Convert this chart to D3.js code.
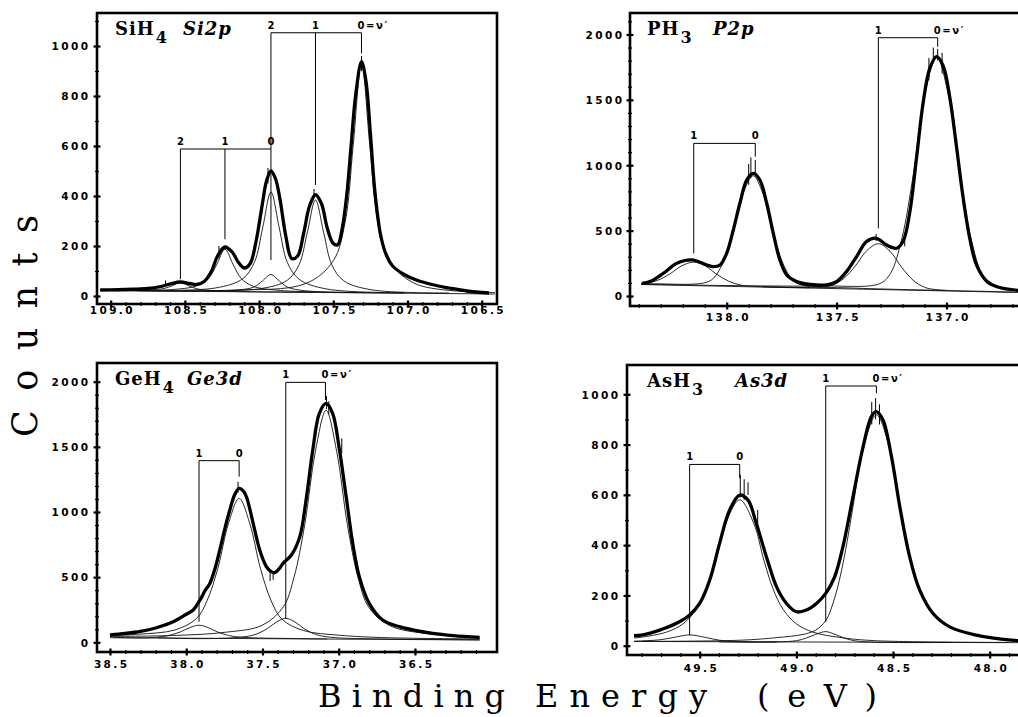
<!DOCTYPE html>
<html>
<head>
<meta charset="utf-8">
<script src="https://cdn.jsdelivr.net/npm/d3@7"></script>
<style>
  body { margin: 0; background: #fff; }
  svg { display: block; }
</style>
</head>
<body>
<svg id="chart" width="1018" height="717"></svg>
<script>
'use strict';

// ---- SiH4, Si 2p ----
var siXTicks = [109.0, 108.5, 108.0, 107.5, 107.0, 106.5];
var siYTicks = [0, 200, 400, 600, 800, 1000];
var siTitle = ['SiH', '4', 'Si2p'];
var siFit = [[109.07, 24], [108.95, 25], [108.85, 27], [108.75, 30], [108.67, 37], [108.60, 48], [108.53, 56],
  [108.47, 50], [108.42, 46], [108.37, 58], [108.32, 100], [108.28, 160], [108.23, 196], [108.18, 175],
  [108.14, 135], [108.10, 112], [108.06, 130], [108.02, 220], [107.98, 360], [107.95, 460], [107.92, 500],
  [107.89, 470], [107.86, 390], [107.82, 240], [107.78, 150], [107.74, 160], [107.70, 250], [107.66, 360],
  [107.62, 405], [107.58, 370], [107.54, 270], [107.50, 210], [107.47, 205], [107.44, 270], [107.41, 400],
  [107.38, 600], [107.35, 800], [107.31, 937], [107.28, 860], [107.25, 650], [107.22, 420], [107.18, 240],
  [107.14, 160], [107.10, 120], [107.02, 85], [106.94, 64], [106.83, 45], [106.72, 32], [106.60, 20], [106.45, 12]];
var siParts = [
  [[106.41, 14], [106.935, 46], [107.12, 138], [107.20, 295], [107.254, 601], [107.31, 933], [107.366, 602],
   [107.42, 296], [107.50, 141], [107.685, 50], [108.21, 23], [109.07, 23]],
  [[106.72, 12], [107.245, 25], [107.43, 61], [107.51, 125], [107.564, 251], [107.62, 384], [107.676, 251],
   [107.73, 126], [107.81, 63], [107.995, 29], [108.52, 21]],
  [[107.02, 12], [107.545, 16], [107.73, 24], [107.81, 36], [107.864, 60], [107.92, 86], [107.976, 61],
   [108.03, 37], [108.11, 26], [108.295, 20], [108.82, 21]],
  [[107.02, 13], [107.545, 28], [107.73, 67], [107.81, 135], [107.864, 272], [107.92, 416], [107.976, 272],
   [108.03, 137], [108.11, 69], [108.295, 32], [108.82, 23]],
  [[107.33, 14], [107.855, 22], [108.04, 39], [108.12, 70], [108.174, 125], [108.23, 187], [108.286, 125],
   [108.34, 71], [108.42, 41], [108.605, 25], [109.07, 23]],
  [[107.63, 15], [108.155, 18], [108.34, 23], [108.42, 29], [108.474, 41], [108.53, 54], [108.586, 41],
   [108.64, 30], [108.72, 25], [108.905, 22], [109.07, 22]]
];
var siBase = [[109.07, 22], [106.41, 8]];
var siNoise = [[107.31, 900, 960], [107.63, 390, 428], [107.94, 450, 512], [108.63, 44, 62], [108.27, 150, 200]];
var siMarks = [
  { at: [107.31, 107.62, 107.92], labels: ['0=\u03bd\u2032', '1', '2'], bar: 1053, ends: [971, 444, 588] },
  { at: [107.92, 108.23, 108.53], labels: ['0', '1', '2'], bar: 588, ends: [144, 227, 67] }
];

// ---- PH3, P 2p ----
var phXTicks = [138.0, 137.5, 137.0];
var phYTicks = [0, 500, 1000, 1500, 2000];
var phTitle = ['PH', '3', 'P2p'];
var phFit = [[138.386, 97], [138.349, 110], [138.288, 174], [138.227, 250], [138.159, 276], [138.09, 237],
  [138.061, 225], [138.03, 237], [138.0, 327], [137.97, 505], [137.94, 709], [137.909, 887], [137.879, 938],
  [137.849, 887], [137.818, 709], [137.788, 479], [137.758, 276], [137.727, 161], [137.682, 110], [137.62, 88],
  [137.545, 85], [137.50, 110], [137.455, 186], [137.409, 301], [137.364, 416], [137.318, 441], [137.273, 390],
  [137.227, 365], [137.197, 420], [137.167, 640], [137.136, 1060], [137.106, 1480], [137.076, 1740],
  [137.045, 1830], [137.015, 1760], [136.985, 1520], [136.955, 1150], [136.925, 760], [136.894, 440],
  [136.864, 240], [136.818, 115], [136.773, 72], [136.697, 46], [136.62, 40]];
var phParts = [
  [[136.62, 43], [136.785, 76], [136.835, 158], [136.887, 429], [136.94, 932], [136.992, 1543], [137.045, 1830],
   [137.098, 1546], [137.15, 939], [137.203, 440], [137.255, 172], [137.305, 94], [137.57, 77], [138.0, 80], [138.39, 90]],
  [[136.70, 30], [136.785, 34], [137.05, 49], [137.10, 67], [137.152, 121], [137.205, 222], [137.257, 342],
   [137.31, 400], [137.363, 346], [137.415, 229], [137.468, 133], [137.52, 82], [137.57, 68], [137.835, 71]],
  [[137.0, 42], [137.43, 61], [137.655, 83], [137.70, 124], [137.745, 252], [137.79, 492], [137.835, 783],
   [137.88, 920], [137.925, 786], [137.97, 498], [138.015, 262], [138.06, 136], [138.105, 99], [138.33, 93], [138.39, 92]],
  [[137.625, 63], [137.89, 75], [137.94, 85], [137.992, 114], [138.045, 166], [138.097, 229], [138.15, 259],
   [138.203, 232], [138.255, 173], [138.308, 124], [138.36, 99], [138.39, 96]]
];
var phBase = [[138.39, 88], [136.62, 25]];
var phNoise = [[137.06, 1780, 1900], [137.04, 1800, 1890], [137.02, 1700, 1860], [137.08, 1650, 1820],
  [137.89, 900, 1060], [137.90, 850, 1010], [137.87, 920, 1040], [137.32, 420, 475], [137.19, 380, 450]];
var phMarks = [
  { at: [137.04, 137.31], labels: ['0=\u03bd\u2032', '1'], bar: 1975, ends: [1906, 517] },
  { at: [137.87, 138.15], labels: ['0', '1'], bar: 1167, ends: [1065, 326] }
];

// ---- GeH4, Ge 3d ----
var geXTicks = [38.5, 38.0, 37.5, 37.0, 36.5];
var geYTicks = [0, 500, 1000, 1500, 2000];
var geTitle = ['GeH', '4', 'Ge3d'];
var geFit = [[38.5, 56], [38.4, 68], [38.3, 84], [38.2, 110], [38.085, 158], [38.0, 215], [37.954, 248],
  [37.91, 324], [37.875, 400], [37.845, 452], [37.81, 570], [37.78, 708], [37.745, 880], [37.714, 1015],
  [37.683, 1130], [37.653, 1181], [37.625, 1160], [37.605, 1117], [37.561, 913], [37.518, 708], [37.474, 580],
  [37.44, 540], [37.42, 534], [37.39, 565], [37.365, 606], [37.31, 670], [37.255, 811], [37.214, 1092],
  [37.17, 1476], [37.127, 1757], [37.083, 1834], [37.04, 1757], [36.995, 1476], [36.951, 1117], [36.908, 759],
  [36.865, 504], [36.8, 299], [36.712, 171], [36.603, 120], [36.5, 92], [36.384, 69], [36.25, 52], [36.076, 38]];
var geParts = [
  [[36.076, 38], [36.423, 67], [36.663, 127], [36.803, 269], [36.873, 497], [36.943, 902], [37.013, 1463],
   [37.083, 1780], [37.153, 1464], [37.223, 902], [37.293, 499], [37.363, 272], [37.503, 130], [37.743, 77],
   [38.063, 53], [38.5, 45]],
  [[36.076, 19], [36.507, 23], [36.787, 27], [36.987, 33], [37.107, 47], [37.167, 68], [37.227, 105], [37.287, 156],
   [37.347, 184], [37.407, 156], [37.467, 106], [37.527, 69], [37.587, 48], [37.707, 34], [37.907, 28], [38.187, 35]],
  [[36.076, 26], [36.673, 35], [36.993, 54], [37.233, 91], [37.373, 178], [37.443, 319], [37.513, 566], [37.583, 911],
   [37.653, 1105], [37.723, 911], [37.793, 567], [37.863, 320], [37.933, 182], [38.073, 95], [38.313, 62], [38.5, 51]],
  [[37.076, 26], [37.356, 30], [37.556, 34], [37.676, 43], [37.736, 57], [37.796, 80], [37.856, 113],
   [37.916, 131], [37.976, 113], [38.036, 81], [38.096, 58], [38.156, 44], [38.276, 34], [38.476, 38]]
];
var geBase = [[38.5, 35], [36.076, 18]];
var geNoise = [[37.08, 1790, 1890], [37.065, 1750, 1850], [37.66, 1150, 1232], [37.45, 470, 560],
  [36.98, 1450, 1565], [37.43, 480, 545]];
var geMarks = [
  { at: [37.087, 37.347], labels: ['0=\u03bd\u2032', '1'], bar: 1995, ends: [1860, 184] },
  { at: [37.653, 37.916], labels: ['0', '1'], bar: 1394, ends: [1271, 158] }
];

// ---- AsH3, As 3d ----
var asXTicks = [49.5, 49.0, 48.5, 48.0];
var asYTicks = [0, 200, 400, 600, 800, 1000];
var asTitle = ['AsH', '3', 'As3d'];
var asFit = [[49.84, 40], [49.802, 42], [49.707, 62], [49.62, 89], [49.552, 122], [49.5, 168], [49.448, 261],
  [49.397, 407], [49.345, 540], [49.293, 599], [49.25, 579], [49.207, 486], [49.155, 354], [49.103, 235],
  [49.051, 168], [49.0, 135], [48.948, 142], [48.896, 168], [48.848, 208], [48.802, 274], [48.759, 394],
  [48.707, 593], [48.655, 791], [48.612, 911], [48.586, 931], [48.552, 898], [48.508, 752], [48.465, 553],
  [48.414, 354], [48.362, 221], [48.293, 128], [48.207, 75], [48.069, 42], [47.888, 22], [47.82, 20]];
var asParts = [
  [[47.81, 20], [47.888, 22], [48.069, 42], [48.207, 75], [48.293, 128], [48.362, 221], [48.414, 354],
   [48.465, 553], [48.508, 752], [48.586, 918], [48.664, 752], [48.706, 557], [48.758, 330], [48.80, 195],
   [48.848, 100], [48.90, 62], [48.965, 45], [49.103, 32], [49.284, 22], [49.80, 17]],
  [[48.2, 13], [48.6, 14], [48.70, 20], [48.75, 30], [48.80, 45], [48.848, 56], [48.90, 45], [48.95, 30],
   [49.0, 20], [49.10, 15], [49.4, 15]],
  [[47.9, 13], [48.595, 20], [48.776, 33], [48.914, 54], [49.0, 87], [49.069, 145], [49.121, 227], [49.173, 354],
   [49.215, 476], [49.293, 580], [49.371, 476], [49.413, 354], [49.465, 227], [49.517, 145], [49.586, 87],
   [49.672, 54], [49.81, 33], [49.84, 31]],
  [[49.1, 15], [49.30, 16], [49.40, 22], [49.47, 33], [49.552, 43], [49.62, 35], [49.70, 24], [49.80, 19], [49.84, 18]]
];
var asBase = [[49.84, 17], [47.81, 12]];
var asNoise = [[48.59, 900, 985], [48.57, 880, 960], [48.61, 880, 970], [49.29, 590, 680], [49.27, 580, 662],
  [49.25, 600, 650], [49.20, 480, 540]];
var asMarks = [
  { at: [48.586, 48.848], labels: ['0=\u03bd\u2032', '1'], bar: 1033, ends: [1004, 95] },
  { at: [49.293, 49.552], labels: ['0', '1'], bar: 721, ends: [666, 42] }
];

// layout: frame box [x, y, w, h], axis domains, label offsets, title positions
var panels = [
  { id: 'si', fit: siFit, parts: siParts, base: siBase, noise: siNoise, marks: siMarks, title: siTitle,
    xTicks: siXTicks, yTicks: siYTicks, yMinor: 100, box: [97, 13, 400, 291],
    xDom: [109.092, 106.397], yDom: [-32, 1132], xLab: 10, yLab: 9,
    tpos: [115, 35, 183] },
  { id: 'ph', fit: phFit, parts: phParts, base: phBase, noise: phNoise, marks: phMarks, title: phTitle,
    xTicks: phXTicks, yTicks: phYTicks, yMinor: 100, box: [630, 13, 400, 293],
    xDom: [138.44, 136.62], yDom: [-76.5, 2164], xLab: 15, yLab: 8,
    tpos: [647, 35, 713] },
  { id: 'ge', fit: geFit, parts: geParts, base: geBase, noise: geNoise, marks: geMarks, title: geTitle,
    xTicks: geXTicks, yTicks: geYTicks, yMinor: 100, box: [97, 363, 400, 289],
    xDom: [38.585, 35.962], yDom: [-74.4, 2143.5], xLab: 16, yLab: 9,
    tpos: [115, 385, 187] },
  { id: 'as', fit: asFit, parts: asParts, base: asBase, noise: asNoise, marks: asMarks, title: asTitle,
    xTicks: asXTicks, yTicks: asYTicks, yMinor: 100, box: [627, 365, 400, 290],
    xDom: [49.876, 47.807], yDom: [-37, 1116.5], xLab: 17, yLab: 9,
    tpos: [647, 387, 735] }
];

var svg = d3.select('#chart');
var tickFont = '"DejaVu Sans", sans-serif';
var serif = '"DejaVu Serif", serif';

panels.forEach(function (p) {
  var left = p.box[0], top = p.box[1], right = left + p.box[2], bottom = top + p.box[3];
  var x = d3.scaleLinear().domain(p.xDom).range([left, right]);
  var y = d3.scaleLinear().domain(p.yDom).range([bottom, top]);
  var g = svg.append('g');

  g.append('defs').append('clipPath').attr('id', 'clip-' + p.id)
    .append('rect').attr('x', left).attr('y', top).attr('width', p.box[2]).attr('height', p.box[3]);

  var line = d3.line()
    .x(function (d) { return x(d[0]); })
    .y(function (d) { return y(d[1]); })
    .curve(d3.curveCatmullRom.alpha(0.5));

  var plot = g.append('g').attr('clip-path', 'url(#clip-' + p.id + ')');

  // baseline + fitted components
  plot.append('path').datum(p.base).attr('d', line)
    .attr('fill', 'none').attr('stroke', '#111').attr('stroke-width', 0.9);
  plot.selectAll('path.part').data(p.parts).enter().append('path').attr('class', 'part')
    .attr('d', line).attr('fill', 'none').attr('stroke', '#111').attr('stroke-width', 0.9);

  // measured spectrum (thick)
  plot.append('path').datum(p.fit).attr('d', line)
    .attr('fill', 'none').attr('stroke', '#000').attr('stroke-width', 3.3)
    .attr('stroke-linejoin', 'round');
  plot.selectAll('line.noise').data(p.noise).enter().append('line').attr('class', 'noise')
    .attr('x1', function (d) { return x(d[0]); }).attr('x2', function (d) { return x(d[0]); })
    .attr('y1', function (d) { return y(d[1]); }).attr('y2', function (d) { return y(d[2]); })
    .attr('stroke', '#000').attr('stroke-width', 1);

  // vibrational progression brackets
  p.marks.forEach(function (m) {
    var xs = m.at.map(x);
    g.append('line').attr('x1', d3.min(xs)).attr('x2', d3.max(xs))
      .attr('y1', y(m.bar)).attr('y2', y(m.bar)).attr('stroke', '#000').attr('stroke-width', 1);
    m.at.forEach(function (e, i) {
      g.append('line').attr('x1', x(e)).attr('x2', x(e)).attr('y1', y(m.bar)).attr('y2', y(m.ends[i]))
        .attr('stroke', '#000').attr('stroke-width', 1);
      var long = m.labels[i].length > 1;
      g.append('text').attr('x', long ? x(e) - 4 : x(e)).attr('y', y(m.bar) - 4)
        .attr('text-anchor', long ? 'start' : 'middle')
        .attr('font-family', tickFont).attr('font-weight', 'bold').attr('font-size', 10)
        .style('letter-spacing', long ? '1.6px' : '0px')
        .text(m.labels[i]);
    });
  });

  // frame
  g.append('rect').attr('x', left).attr('y', top).attr('width', p.box[2]).attr('height', p.box[3])
    .attr('fill', 'none').attr('stroke', '#000').attr('stroke-width', 2.6);

  // axes
  var xMinor = d3.range(Math.round(p.xDom[1] * 10), Math.round(p.xDom[0] * 10) + 1)
    .map(function (v) { return v / 10; })
    .filter(function (v) { return x(v) > left + 7 && x(v) < right - 7; });
  var yMinor = d3.range(0, p.yDom[1], p.yMinor)
    .filter(function (v) { return y(v) > top + 6; });

  var xm = g.append('g').attr('transform', 'translate(0,' + (bottom - 2) + ')')
    .call(d3.axisBottom(x).tickValues(xMinor).tickSize(4).tickFormat(''));
  var xa = g.append('g').attr('transform', 'translate(0,' + (bottom - 3.5) + ')')
    .call(d3.axisBottom(x).tickValues(p.xTicks).tickSize(7).tickFormat(d3.format('.1f')));
  var ym = g.append('g').attr('transform', 'translate(' + (left + 2) + ',0)')
    .call(d3.axisLeft(y).tickValues(yMinor).tickSize(4).tickFormat(''));
  var ya = g.append('g').attr('transform', 'translate(' + (left + 3.5) + ',0)')
    .call(d3.axisLeft(y).tickValues(p.yTicks).tickSize(7).tickFormat(d3.format('d')));

  [xm, xa, ym, ya].forEach(function (a) { a.select('.domain').remove(); });
  [xm, ym].forEach(function (a) { a.selectAll('.tick line').attr('stroke', '#000').attr('stroke-width', 1.2); });
  [xa, ya].forEach(function (a) {
    a.selectAll('.tick line').attr('stroke', '#000').attr('stroke-width', 2.2);
    a.selectAll('.tick text').attr('fill', '#000')
      .attr('font-family', tickFont).attr('font-weight', 'bold').attr('font-size', 10.5)
      .style('letter-spacing', '2.4px');
  });
  xa.selectAll('.tick text').attr('y', 3.5 + p.xLab).attr('dy', null).attr('dx', 1.2);
  ya.selectAll('.tick text').attr('x', -(3.5 + p.yLab) + 2.4).attr('dy', '0.36em');

  // title: formula with subscript, then the core level in italics
  var t = g.append('text').attr('font-family', serif).attr('font-weight', 'bold').attr('fill', '#000');
  t.append('tspan').attr('x', p.tpos[0]).attr('y', p.tpos[1]).attr('font-size', 18)
    .style('letter-spacing', '1px').text(p.title[0]);
  t.append('tspan').attr('dx', 1).attr('dy', 8).attr('font-size', 16).text(p.title[1]);
  t.append('tspan').attr('x', p.tpos[2]).attr('y', p.tpos[1]).attr('font-size', 18)
    .attr('font-style', 'italic').style('letter-spacing', '1px').text(p.title[2]);
});

// shared axis titles
svg.append('text').attr('transform', 'translate(37,326) rotate(-90)')
  .attr('text-anchor', 'middle').attr('font-family', serif).attr('font-size', 35)
  .attr('textLength', 222).attr('lengthAdjust', 'spacing').text('Counts');
[['Binding', 318, 187], ['Energy', 535, 172], ['(eV)', 757, 120]].forEach(function (w) {
  svg.append('text').attr('x', w[1]).attr('y', 707)
    .attr('font-family', serif).attr('font-size', 32)
    .attr('textLength', w[2]).attr('lengthAdjust', 'spacing').text(w[0]);
});
</script>
</body>
</html>
